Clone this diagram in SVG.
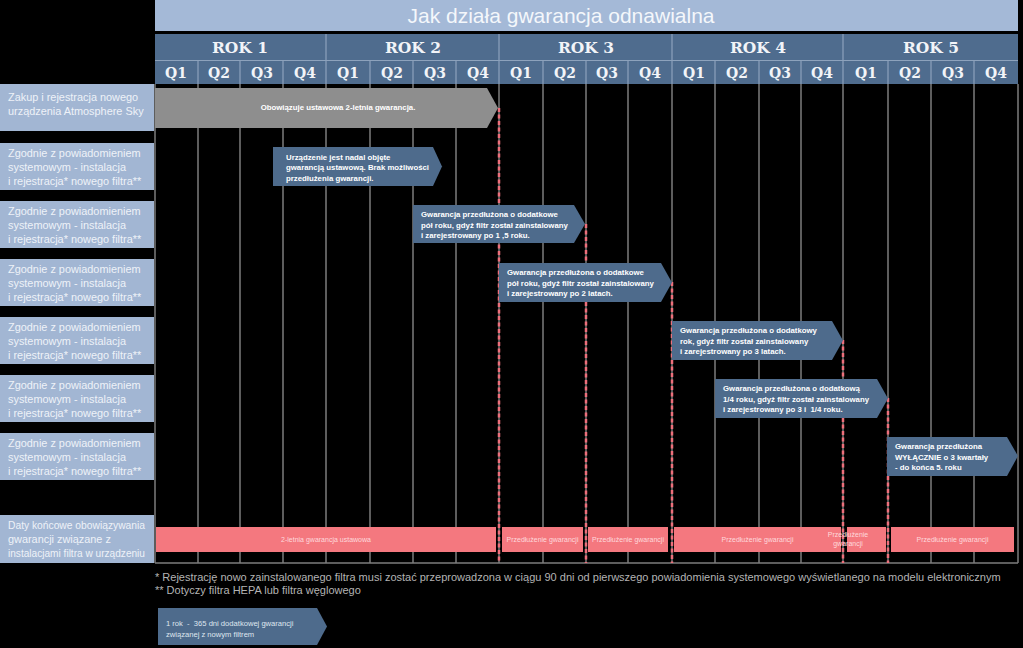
<svg xmlns="http://www.w3.org/2000/svg" width="1023" height="648" viewBox="0 0 1023 648">
<style>
.hdr{fill:#4f6c8e}
.yr{font-family:"DejaVu Serif",serif;font-weight:bold;font-size:15.5px;fill:#f2f4f8;text-anchor:middle}
.q{font-family:"DejaVu Serif",serif;font-weight:bold;font-size:14px;fill:#f2f4f8;text-anchor:middle}
.hsep{stroke:#8da2bc;stroke-width:1.2}
.grid{stroke:#7c7c7c;stroke-width:1.5}
.lbl{fill:#a2b6d3}
.lt{font-family:"Liberation Sans",Arial,sans-serif;font-size:10.9px;fill:#eef2f8}
.arr{fill:#4e6b8c}
.at{font-family:"Liberation Sans",Arial,sans-serif;font-weight:bold;font-size:7.8px;fill:#ffffff;white-space:pre}
.dash{stroke:#ee6f7b;stroke-width:2.5;stroke-dasharray:4 2.5;fill:none}
.bar{fill:#f4787f}
.bt{font-family:"Liberation Sans",Arial,sans-serif;font-size:7px;fill:#ffd9dc;text-anchor:middle}
.fn{font-family:"Liberation Sans",Arial,sans-serif;font-size:11px;fill:#b4b4b4}
</style>
<rect x="0" y="0" width="1023" height="648" fill="#000000"/>
<g id="title">
<rect x="155" y="0" width="863" height="31" fill="#a4b9d7"/>
<text x="561" y="23" font-family="Liberation Sans, Arial, sans-serif" font-size="21" fill="#f4f7fb" text-anchor="middle">Jak działa gwarancja odnawialna</text>
</g>
<g id="header">
<rect class="hdr" x="155" y="34" width="863" height="50"/>
<line class="hsep" x1="155" y1="60.5" x2="1018" y2="60.5"/>
<g class="hsep">
<line x1="326" y1="34" x2="326" y2="84"/><line x1="499" y1="34" x2="499" y2="84"/><line x1="672" y1="34" x2="672" y2="84"/><line x1="843" y1="34" x2="843" y2="84"/>
<line x1="198" y1="61" x2="198" y2="84"/><line x1="240" y1="61" x2="240" y2="84"/><line x1="283" y1="61" x2="283" y2="84"/>
<line x1="370" y1="61" x2="370" y2="84"/><line x1="413" y1="61" x2="413" y2="84"/><line x1="456" y1="61" x2="456" y2="84"/>
<line x1="543" y1="61" x2="543" y2="84"/><line x1="586" y1="61" x2="586" y2="84"/><line x1="628" y1="61" x2="628" y2="84"/>
<line x1="715" y1="61" x2="715" y2="84"/><line x1="759" y1="61" x2="759" y2="84"/><line x1="801" y1="61" x2="801" y2="84"/>
<line x1="888" y1="61" x2="888" y2="84"/><line x1="931" y1="61" x2="931" y2="84"/><line x1="974" y1="61" x2="974" y2="84"/>
</g>
<text class="yr" x="240" y="53">ROK 1</text>
<text class="yr" x="413" y="53">ROK 2</text>
<text class="yr" x="586" y="53">ROK 3</text>
<text class="yr" x="758" y="53">ROK 4</text>
<text class="yr" x="931" y="53">ROK 5</text>
<text class="q" x="176" y="78">Q1</text><text class="q" x="219" y="78">Q2</text><text class="q" x="262" y="78">Q3</text><text class="q" x="305" y="78">Q4</text>
<text class="q" x="348" y="78">Q1</text><text class="q" x="392" y="78">Q2</text><text class="q" x="435" y="78">Q3</text><text class="q" x="478" y="78">Q4</text>
<text class="q" x="521" y="78">Q1</text><text class="q" x="565" y="78">Q2</text><text class="q" x="607" y="78">Q3</text><text class="q" x="650" y="78">Q4</text>
<text class="q" x="694" y="78">Q1</text><text class="q" x="737" y="78">Q2</text><text class="q" x="780" y="78">Q3</text><text class="q" x="822" y="78">Q4</text>
<text class="q" x="866" y="78">Q1</text><text class="q" x="910" y="78">Q2</text><text class="q" x="953" y="78">Q3</text><text class="q" x="996" y="78">Q4</text>
</g>
<g id="grid" class="grid">
<line x1="155" y1="84" x2="155" y2="563"/><line x1="198" y1="84" x2="198" y2="563"/><line x1="240" y1="84" x2="240" y2="563"/><line x1="283" y1="84" x2="283" y2="563"/>
<line x1="326" y1="84" x2="326" y2="563"/><line x1="370" y1="84" x2="370" y2="563"/><line x1="413" y1="84" x2="413" y2="563"/><line x1="456" y1="84" x2="456" y2="563"/>
<line x1="499" y1="84" x2="499" y2="563"/><line x1="543" y1="84" x2="543" y2="563"/><line x1="586" y1="84" x2="586" y2="563"/><line x1="628" y1="84" x2="628" y2="563"/>
<line x1="672" y1="84" x2="672" y2="563"/><line x1="715" y1="84" x2="715" y2="563"/><line x1="759" y1="84" x2="759" y2="563"/><line x1="801" y1="84" x2="801" y2="563"/>
<line x1="843" y1="84" x2="843" y2="563"/><line x1="888" y1="84" x2="888" y2="563"/><line x1="931" y1="84" x2="931" y2="563"/><line x1="974" y1="84" x2="974" y2="563"/>
<line x1="1018" y1="84" x2="1018" y2="563"/>
<line x1="155" y1="563" x2="1018" y2="563"/>
</g>
<g id="label1"><rect class="lbl" x="0" y="84" width="154" height="47"/>
<text class="lt" x="8" y="101">Zakup i rejestracja nowego</text><text class="lt" x="8" y="115">urządzenia Atmosphere Sky</text></g>
<g id="label2"><rect class="lbl" x="0" y="143" width="154" height="47"/>
<text class="lt" x="8" y="157">Zgodnie z powiadomieniem</text><text class="lt" x="8" y="171">systemowym - instalacja</text><text class="lt" x="8" y="184.5">i rejestracja* nowego filtra**</text></g>
<g id="label3"><rect class="lbl" x="0" y="201" width="154" height="47"/>
<text class="lt" x="8" y="215">Zgodnie z powiadomieniem</text><text class="lt" x="8" y="229">systemowym - instalacja</text><text class="lt" x="8" y="242.5">i rejestracja* nowego filtra**</text></g>
<g id="label4"><rect class="lbl" x="0" y="259" width="154" height="47"/>
<text class="lt" x="8" y="273">Zgodnie z powiadomieniem</text><text class="lt" x="8" y="287">systemowym - instalacja</text><text class="lt" x="8" y="300.5">i rejestracja* nowego filtra**</text></g>
<g id="label5"><rect class="lbl" x="0" y="317" width="154" height="47"/>
<text class="lt" x="8" y="331">Zgodnie z powiadomieniem</text><text class="lt" x="8" y="345">systemowym - instalacja</text><text class="lt" x="8" y="358.5">i rejestracja* nowego filtra**</text></g>
<g id="label6"><rect class="lbl" x="0" y="375" width="154" height="47"/>
<text class="lt" x="8" y="389">Zgodnie z powiadomieniem</text><text class="lt" x="8" y="403">systemowym - instalacja</text><text class="lt" x="8" y="416.5">i rejestracja* nowego filtra**</text></g>
<g id="label7"><rect class="lbl" x="0" y="433" width="154" height="47"/>
<text class="lt" x="8" y="447">Zgodnie z powiadomieniem</text><text class="lt" x="8" y="461">systemowym - instalacja</text><text class="lt" x="8" y="474.5">i rejestracja* nowego filtra**</text></g>
<g id="label8"><rect class="lbl" x="0" y="515" width="154" height="48"/>
<text class="lt" x="8" y="529" textLength="137" lengthAdjust="spacingAndGlyphs">Daty końcowe obowiązywania</text><text class="lt" x="8" y="543">gwarancji związane z</text><text class="lt" x="8" y="556.5" textLength="137" lengthAdjust="spacingAndGlyphs">instalacjami filtra w urządzeniu</text></g>
<g id="connectors">
<line class="dash" x1="499" y1="108" x2="499" y2="563"/>
<line class="dash" x1="586" y1="224" x2="586" y2="563"/>
<line class="dash" x1="672" y1="282" x2="672" y2="563"/>
<line class="dash" x1="843" y1="340" x2="843" y2="563"/>
<line class="dash" x1="888" y1="398" x2="888" y2="563"/>
</g>
<g id="arrow1"><polygon points="155,88 487,88 498,108 487,128 155,128" fill="#8e8e8e"/>
<text class="at" x="338" y="110" text-anchor="middle" font-size="8.6">Obowiązuje ustawowa 2-letnia gwarancja.</text></g>
<g id="arrow2"><polygon class="arr" points="273,147 433,147 442,166.5 433,186 273,186"/>
<text class="at" x="286" y="159.5">Urządzenie jest nadal objęte</text><text class="at" x="286" y="170">gwarancją ustawową. Brak możliwości</text><text class="at" x="286" y="180.5">przedłużenia gwarancji.</text></g>
<g id="arrow3"><polygon class="arr" points="413,205 574,205 585,224 574,243 413,243"/>
<text class="at" x="421" y="217">Gwarancja przedłużona o dodatkowe</text><text class="at" x="421" y="227.5">pół roku, gdyż filtr został zainstalowany</text><text class="at" x="421" y="238">i zarejestrowany po 1 ,5 roku.</text></g>
<g id="arrow4"><polygon class="arr" points="499,263 661,263 672,282.5 661,302 499,302"/>
<text class="at" x="507" y="275">Gwarancja przedłużona o dodatkowe</text><text class="at" x="507" y="285.5">pół roku, gdyż filtr został zainstalowany</text><text class="at" x="507" y="296">i zarejestrowany po 2 latach.</text></g>
<g id="arrow5"><polygon class="arr" points="672,321 832,321 843,340.5 832,360 672,360"/>
<text class="at" x="680" y="333">Gwarancja przedłużona o dodatkowy</text><text class="at" x="680" y="343.5">rok, gdyż filtr został zainstalowany</text><text class="at" x="680" y="354">i zarejestrowany po 3 latach.</text></g>
<g id="arrow6"><polygon class="arr" points="715,379 877,379 888,398.5 877,418 715,418"/>
<text class="at" x="723" y="391">Gwarancja przedłużona o dodatkową</text><text class="at" x="723" y="401.5">1/4 roku, gdyż filtr został zainstalowany</text><text class="at" x="723" y="412">i zarejestrowany po 3 i  1/4 roku.</text></g>
<g id="arrow7"><polygon class="arr" points="887,437 1007,437 1018,456 1007,476 887,476"/>
<text class="at" x="895" y="449">Gwarancja przedłużona</text><text class="at" x="895" y="459.5">WYŁĄCZNIE o 3 kwartały</text><text class="at" x="895" y="470">- do końca 5. roku</text></g>
<g id="bars">
<rect class="bar" x="156" y="527" width="340" height="25"/><text class="bt" x="326" y="542">2-letnia gwarancja ustawowa</text>
<rect class="bar" x="502" y="527" width="81" height="25"/><text class="bt" x="542.5" y="542">Przedłużenie gwarancji</text>
<rect class="bar" x="588" y="527" width="80" height="25"/><text class="bt" x="628" y="542">Przedłużenie gwarancji</text>
<rect class="bar" x="674" y="527" width="167" height="25"/><text class="bt" x="757.5" y="542">Przedłużenie gwarancji</text>
<rect class="bar" x="847" y="527" width="39" height="25"/><text class="bt" x="848" y="537" text-anchor="start" font-size="6.4">Przedłużenie</text><text class="bt" x="848" y="545.5" text-anchor="start" font-size="6.4">gwarancji</text>
<rect class="bar" x="891" y="527" width="123" height="25"/><text class="bt" x="952.5" y="542">Przedłużenie gwarancji</text>
</g>
<g id="footnotes">
<text class="fn" x="155" y="581">* Rejestrację nowo zainstalowanego filtra musi zostać przeprowadzona w ciągu 90 dni od pierwszego powiadomienia systemowego wyświetlanego na modelu elektronicznym</text>
<text class="fn" x="155" y="594">** Dotyczy filtra HEPA lub filtra węglowego</text>
</g>
<g id="legend"><polygon class="arr" points="158,608 317,608 327,626.5 317,645 158,645"/>
<text font-family="Liberation Sans, Arial, sans-serif" font-size="7.6" fill="#dfe6ef" x="166" y="625.5" style="white-space:pre">1 rok  -  365 dni dodatkowej gwarancji</text>
<text font-family="Liberation Sans, Arial, sans-serif" font-size="7.6" fill="#dfe6ef" x="166" y="637">związanej z nowym filtrem</text></g>
</svg>
